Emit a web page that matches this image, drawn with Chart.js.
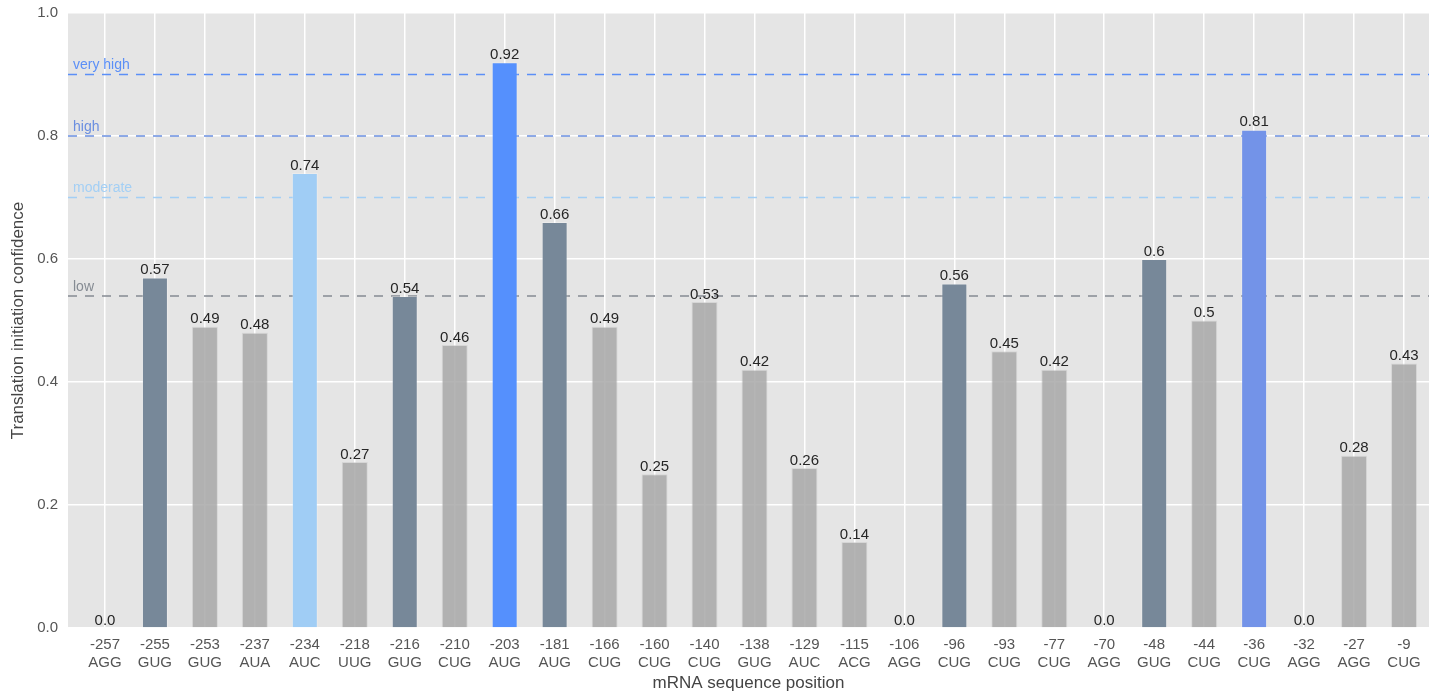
<!DOCTYPE html>
<html>
<head>
<meta charset="utf-8">
<script src="https://cdn.jsdelivr.net/npm/chart.js@4/dist/chart.umd.min.js"></script>
<style>
  html, body { margin: 0; padding: 0; background: #ffffff; }
  #wrap { width: 1434px; height: 694px; }
</style>
</head>
<body>
<div id="wrap"><canvas id="c" width="1434" height="694"></canvas></div>
<script>
// Candidate start sites: position upstream of the main ORF and the codon found there
const positions = ['-257','-255','-253','-237','-234','-218','-216','-210','-203','-181','-166','-160','-140','-138','-129','-115','-106','-96','-93','-77','-70','-48','-44','-36','-32','-27','-9'];
const codons = ['AGG','GUG','GUG','AUA','AUC','UUG','GUG','CUG','AUG','AUG','CUG','CUG','CUG','GUG','AUC','ACG','AGG','CUG','CUG','CUG','AGG','GUG','CUG','CUG','AGG','AGG','CUG'];
const confidence = [0.0,0.57,0.49,0.48,0.74,0.27,0.54,0.46,0.92,0.66,0.49,0.25,0.53,0.42,0.26,0.14,0.0,0.56,0.45,0.42,0.0,0.6,0.5,0.81,0.0,0.28,0.43];

// Confidence classes (lower bound of each class)
const levelNames = ['very high', 'high', 'moderate', 'low'];
const levelValues = [0.9, 0.8, 0.7, 0.54];
const levelLineColors = ['#5b8ff7', '#6a8ee0', '#a3cff5', '#858b93'];
const levelBarColors = ['#5590fd', '#7393e8', '#a0cdf5', '#778899'];
const belowLowColor = 'rgba(165,165,165,0.82)';

function barColor(v) {
  for (let i = 0; i < levelValues.length; i++) {
    if (v >= levelValues[i]) return levelBarColors[i];
  }
  return belowLowColor;
}
function borderColor(v) {
  for (let i = 0; i < levelValues.length; i++) {
    if (v >= levelValues[i]) return 'rgba(255,255,255,0.25)';
  }
  return 'rgba(200,200,200,0.5)';
}
function fmt(v) {
  return Number.isInteger(v) ? v.toFixed(1) : String(v);
}

const FONT = '"Liberation Sans", Arial, Helvetica, sans-serif';

// Grey panel behind the plotting area
const panelBg = {
  id: 'panelBg',
  beforeDraw(chart) {
    const { ctx, chartArea: a } = chart;
    ctx.save();
    ctx.fillStyle = '#e5e5e5';
    ctx.fillRect(a.left, a.top, a.right - a.left, a.bottom - a.top);
    ctx.restore();
  }
};

// Dashed class thresholds with their names, drawn under the bars
const levelLines = {
  id: 'levelLines',
  beforeDatasetsDraw(chart) {
    const { ctx, chartArea: a, scales: { y } } = chart;
    ctx.save();
    ctx.lineWidth = 1.5;
    ctx.setLineDash([9, 8]);
    ctx.font = '14px ' + FONT;
    ctx.textAlign = 'left';
    ctx.textBaseline = 'bottom';
    levelValues.forEach((v, i) => {
      const py = y.getPixelForValue(v);
      ctx.strokeStyle = levelLineColors[i];
      ctx.beginPath();
      ctx.moveTo(a.left, py);
      ctx.lineTo(a.right, py);
      ctx.stroke();
      ctx.fillStyle = levelLineColors[i];
      ctx.fillText(levelNames[i], a.left + 5, py - 2);
    });
    ctx.restore();
  }
};

// Value printed above each bar
const valueLabels = {
  id: 'valueLabels',
  afterDatasetsDraw(chart) {
    const { ctx } = chart;
    const meta = chart.getDatasetMeta(0);
    ctx.save();
    ctx.font = '15px ' + FONT;
    ctx.fillStyle = '#262626';
    ctx.textAlign = 'center';
    ctx.textBaseline = 'bottom';
    meta.data.forEach((bar, i) => {
      ctx.fillText(fmt(confidence[i]), bar.x, bar.y);
    });
    ctx.restore();
  }
};

new Chart(document.getElementById('c'), {
  type: 'bar',
  data: {
    datasets: [{
      data: confidence.map((v, i) => ({ x: i, y: v })),
      backgroundColor: confidence.map(barColor),
      borderColor: confidence.map(borderColor),
      borderWidth: 1,
      barPercentage: 0.52,
      categoryPercentage: 1.0
    }]
  },
  options: {
    responsive: false,
    animation: false,
    events: [],
    layout: { padding: { top: 13, right: 5, left: 8, bottom: 0 } },
    plugins: { legend: { display: false }, tooltip: { enabled: false } },
    scales: {
      x: {
        type: 'linear',
        min: -0.74,
        max: 26.5,
        offset: false,
        afterBuildTicks(scale) {
          scale.ticks = positions.map((_, i) => ({ value: i }));
        },
        afterFit(scale) { scale.height = 66; scale.paddingLeft = 0; scale.paddingRight = 0; },
        grid: { color: '#ffffff', lineWidth: 1.5, drawTicks: false, offset: false },
        border: { display: false },
        ticks: {
          autoSkip: false,
          maxRotation: 0,
          padding: 8,
          color: '#555555',
          font: { family: FONT, size: 15 },
          callback: (v) => [positions[v], codons[v]]
        },
        title: {
          display: true,
          text: 'mRNA sequence position',
          color: '#444444',
          font: { family: FONT, size: 17 },
          padding: { top: 2, bottom: 0 }
        }
      },
      y: {
        min: 0,
        max: 1,
        afterFit(scale) { scale.width = 60; scale.paddingTop = 0; scale.paddingBottom = 0; },
        grid: { color: '#ffffff', lineWidth: 1.5, drawTicks: false },
        border: { display: false },
        ticks: {
          stepSize: 0.2,
          padding: 10,
          color: '#555555',
          font: { family: FONT, size: 15 },
          callback: (v) => v.toFixed(1)
        },
        title: {
          display: true,
          text: 'Translation initiation confidence',
          color: '#444444',
          font: { family: FONT, size: 17 },
          padding: { top: 0, bottom: 4 }
        }
      }
    }
  },
  plugins: [panelBg, levelLines, valueLabels]
});
</script>
</body>
</html>
